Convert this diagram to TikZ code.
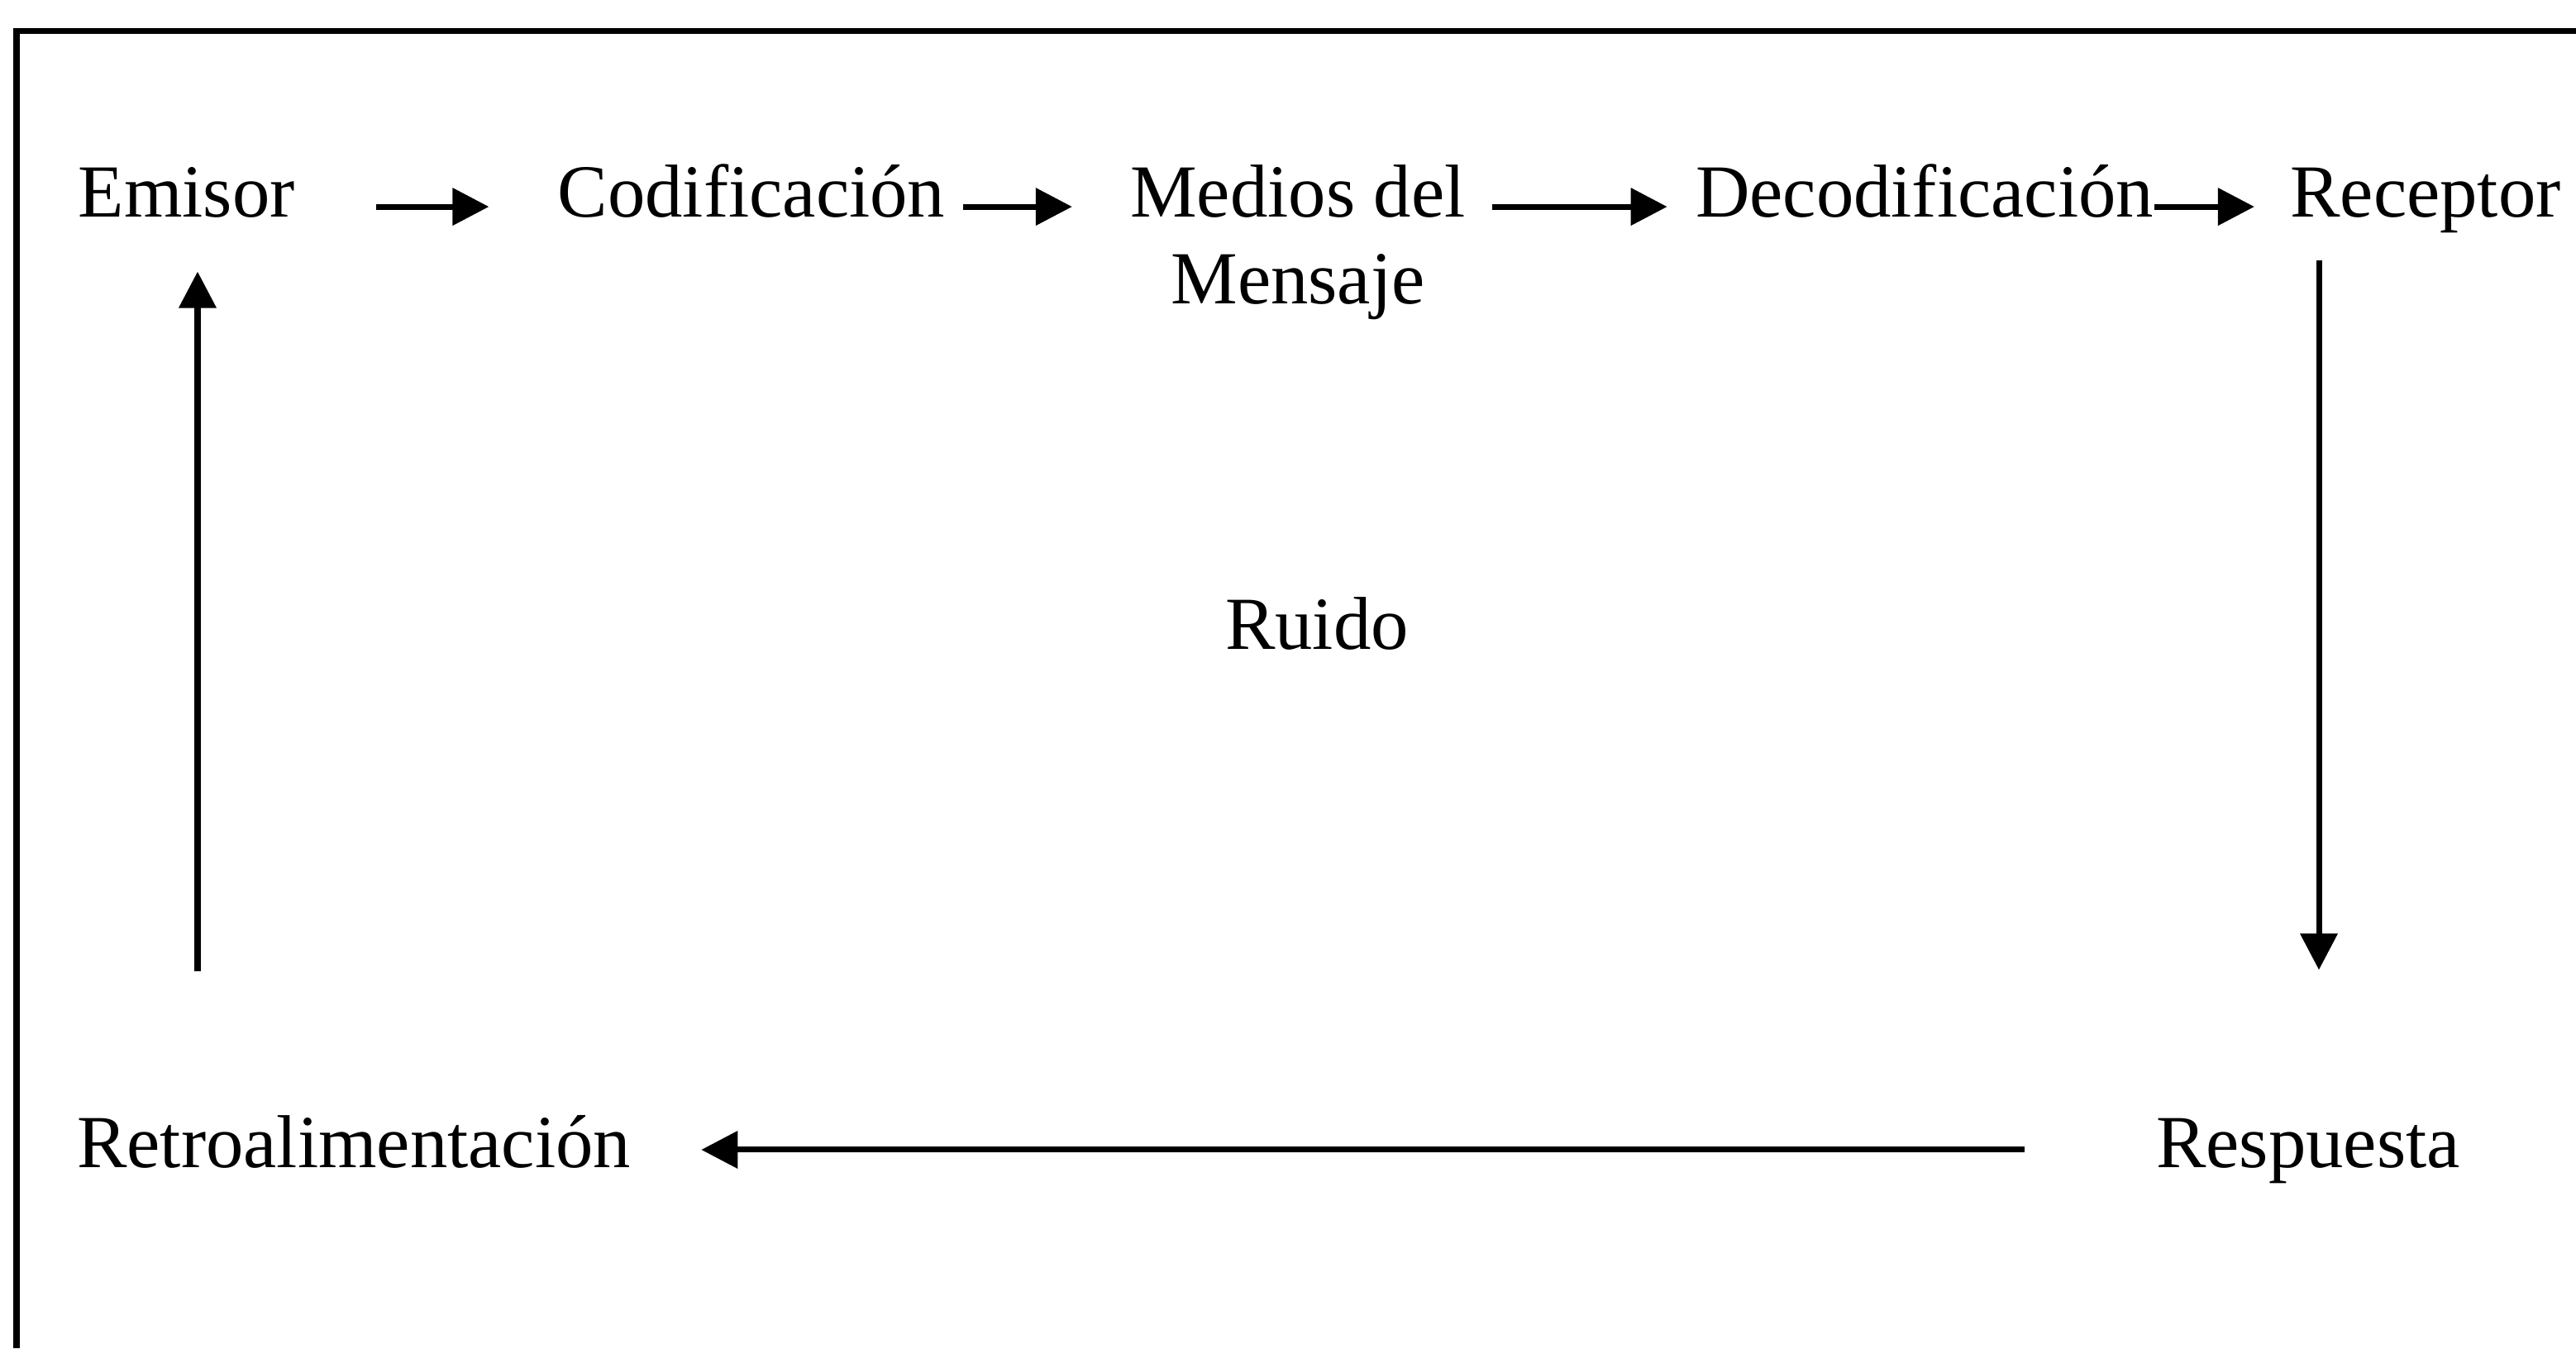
\documentclass[tikz,border=0pt]{standalone}
\usepackage{fontspec}
\setmainfont{Liberation Serif}
\usepackage{tikz}
\usetikzlibrary{arrows.meta}

\begin{document}
\begin{tikzpicture} [etapa/.style={ inner sep=0pt, anchor=base, text height=9pt, text depth=3pt, font=\fontsize{12.9}{15}\selectfont },
    flecha/.style={ line width=1pt, -{Triangle[length=0.22cm, width=0.22cm]} } ]
    \useasboundingbox (0,0) rectangle (15.58,-8.155);
    \draw[line width=1pt] (0.10,-8.155) -- (0.10,-0.185) -- (15.58,-0.185);

    \node [etapa] (emisor) at (1.128,-1.31) {Emisor};
    \node [etapa] (codif) at (4.545,-1.31) {Codificación};
    \node [inner sep=0pt, anchor=base, font=\fontsize{12.9}{15}\selectfont] (medios) at (7.85,-1.31) {\begin{tabular}[t]{@{}c@{}}Medios del\\Mensaje\end{tabular}};
    \node [etapa] (decod) at (11.64,-1.31) {Decodificación};
    \node [etapa] (receptor) at (14.67,-1.31) {Receptor};
    \node [etapa] (ruido) at (7.965,-3.925) {Ruido};
    \node [etapa] (retro) at (2.14,-7.06) {Retroalimentación};
    \node [etapa] (respuesta) at (13.96,-7.06) {Respuesta};

    \foreach \a/\b/\s/\e in {emisor/codif/0.485/0.41, codif/medios/0.10/0.345, medios/decod/0.155/0.165, decod/receptor/0/0.21}{
        \draw [flecha, shorten <=\s cm, shorten >=\e cm] ([yshift=1.7pt]\a.base east) -- ([yshift=1.7pt]\b.base west);
    }
    \draw [flecha, shorten <=0.15cm, shorten >=0.87cm] ([xshift=0.065cm]respuesta.north |- receptor.south) -- ([xshift=0.065cm]respuesta.north);
    \draw [flecha, shorten <=0.79cm, shorten >=0.42cm] (respuesta.west) -- (retro.east);
    \draw [flecha, shorten <=0.86cm, shorten >=0.22cm] ([xshift=0.067cm]emisor.south |- retro.north) -- ([xshift=0.067cm]emisor.south);
\end{tikzpicture}
\end{document}
